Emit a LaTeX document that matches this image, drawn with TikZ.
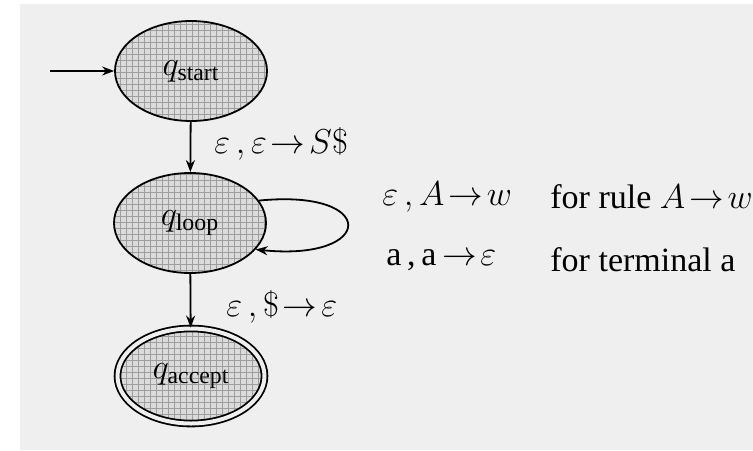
\documentclass[tikz,border=0pt]{standalone}
\usepackage{fontspec}
\setmainfont{Liberation Serif}
\usetikzlibrary{arrows.meta,patterns,shapes.geometric}
\definecolor{bgc}{HTML}{EFEFEF}
\begin{document}
\begin{tikzpicture}[x=0.5pt,y=-0.5pt,
  state/.style={ellipse,draw=black,line width=0.9pt,minimum width=76pt,minimum height=50pt,
    inner sep=0pt,preaction={fill=black!14},pattern=grid,pattern color=black!38,
    font=\fontsize{17}{20}\selectfont},
  accstate/.style={state,minimum width=73.5pt,minimum height=47.5pt,double=bgc,double distance=2pt},
  edge/.style={line width=0.9pt,-{Stealth[length=6pt,width=4.5pt]}},
  lbl/.style={font=\fontsize{17}{20}\selectfont,inner sep=0pt}]
\useasboundingbox (0,0) rectangle (753,450);
\fill[white] (0,0) rectangle (753,450);
\fill[bgc] (20,4) rectangle (753,450);
\node[state] (start) at (191,71) {$q_{\mathrm{start}}$};
\node[state] (loop) at (190,223) {$q_{\mathrm{loop}}$};
\node[accstate] (accept) at (191,376) {$q_{\mathrm{accept}}$};
\coordinate (init) at (50,71);
\draw[edge] (init) -- (start);
\draw[edge] (start) -- node[lbl,anchor=west,xshift=11.5pt,yshift=1.5pt] {$\varepsilon\,,\varepsilon\!\to\! S\$$} (loop);
\draw[edge] (loop) -- node[lbl,anchor=west,xshift=17.5pt,yshift=-3pt] {$\varepsilon\,,\$\!\to\!\varepsilon$} (accept);
\draw[edge] (loop.18) .. controls +(120,-12) and +(120,12) .. (loop.-22);
\node[lbl,anchor=west] (r1) at (382,197) {$\varepsilon\,, A\!\to\! w$};
\node[lbl,anchor=west] (r2) at (386,260) {a\,,\,a\,$\to\!\varepsilon$};
\node[lbl,anchor=west] (d1) at (550,197) {for rule $A\!\to\! w$};
\node[lbl,anchor=west] (d2) at (550,260) {for terminal a};
\end{tikzpicture}
\end{document}
